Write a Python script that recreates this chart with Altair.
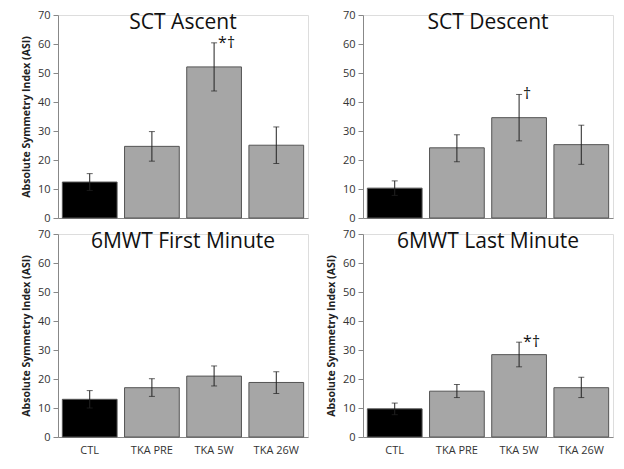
import altair as alt
import pandas as pd

groups = ["CTL", "TKA PRE", "TKA 5W", "TKA 26W"]
titles = ["SCT Ascent", "SCT Descent", "6MWT First Minute", "6MWT Last Minute"]
means = [
    [12.4, 24.7, 52.1, 25.1],
    [10.3, 24.2, 34.6, 25.3],
    [13.0, 17.0, 21.0, 18.8],
    [9.7, 15.8, 28.4, 17.0],
]
err_high = [
    [15.3, 29.8, 60.4, 31.4],
    [12.8, 28.7, 42.6, 32.0],
    [16.0, 20.1, 24.5, 22.5],
    [11.7, 18.1, 32.7, 20.6],
]
err_low = [
    [9.5, 19.6, 43.8, 18.8],
    [7.8, 19.4, 26.6, 18.5],
    [10.0, 14.0, 17.6, 15.0],
    [7.7, 13.6, 24.2, 13.6],
]
marks = [
    ["", "", "*\u2020", ""],
    ["", "", "\u2020", ""],
    ["", "", "", ""],
    ["", "", "*\u2020", ""],
]
y_title = "Absolute Symmetry Index (ASI)"
y_ticks = [0, 10, 20, 30, 40, 50, 60, 70]

FONT = "Open Sans"
W, H = 250, 203


def panel(i, show_x, show_ytitle):
    df = pd.DataFrame({
        "group": groups,
        "mean": means[i],
        "hi": err_high[i],
        "lo": err_low[i],
        "mark": marks[i],
        "kind": ["ctl", "tka", "tka", "tka"],
    })
    xaxis = alt.Axis(
        title=None, labels=show_x, ticks=False, labelAngle=0,
        labelFontSize=11, labelColor="#333333", labelFont=FONT, labelPadding=7,
        domainColor="#888888",
    )
    xscale = alt.Scale(paddingInner=0.12, paddingOuter=0.07)
    yaxis = alt.Axis(
        title=y_title, values=y_ticks, grid=False, tickSize=5, labelOverlap=False,
        tickColor="#888888", domainColor="#888888",
        labelFontSize=11, labelColor="#333333", labelFont=FONT, labelPadding=3,
        titleFontSize=10.5, titleFont=FONT, titleColor="#222222",
        titleFontWeight="bold", titlePadding=6,
        titleOpacity=1 if show_ytitle else 0,
    )
    yscale = alt.Scale(domain=[0, 70], nice=False)

    def X():
        return alt.X("group:N", sort=groups, axis=xaxis, scale=xscale)

    def Y(f):
        return alt.Y(f, axis=yaxis, scale=yscale)

    base = alt.Chart(df)
    bars = base.mark_bar(stroke="#555555", strokeWidth=1).encode(
        x=X(), y=Y("mean:Q"),
        color=alt.Color("kind:N", scale=alt.Scale(domain=["ctl", "tka"], range=["#000000", "#a6a6a6"]), legend=None),
    )
    rule = base.mark_rule(color="#222222", strokeWidth=1).encode(
        x=X(), y=Y("lo:Q"), y2="hi:Q")
    cap_hi = base.mark_tick(color="#222222", size=6, thickness=1).encode(
        x=X(), y=Y("hi:Q"))
    cap_lo = base.mark_tick(color="#222222", size=6, thickness=1).encode(
        x=X(), y=Y("lo:Q"))
    sig = base.mark_text(align="left", baseline="middle", dx=4, dy=0,
                         fontSize=16, font=FONT, color="#111111").encode(
        x=X(), y=Y("hi:Q"), text="mark:N")
    tdf = pd.DataFrame({"t": [titles[i]]})
    ttl = alt.Chart(tdf).mark_text(fontSize=21, font=FONT, color="#111111",
                                   baseline="middle", align="center").encode(
        x=alt.value(W / 2), y=alt.value(8), text="t:N")
    return alt.layer(bars, rule, cap_hi, cap_lo, sig, ttl).properties(width=W, height=H)


top = alt.hconcat(panel(0, False, True), panel(1, False, False), spacing=16)
bottom = alt.hconcat(panel(2, True, True), panel(3, True, True), spacing=16)
chart = alt.vconcat(top, bottom, spacing=3).properties(
    padding={"left": 12, "top": 0, "right": 0, "bottom": 0}
).configure_view(stroke=None).configure(background="white")

chart.save("out.html", embed_options={"renderer": "svg", "actions": False})
